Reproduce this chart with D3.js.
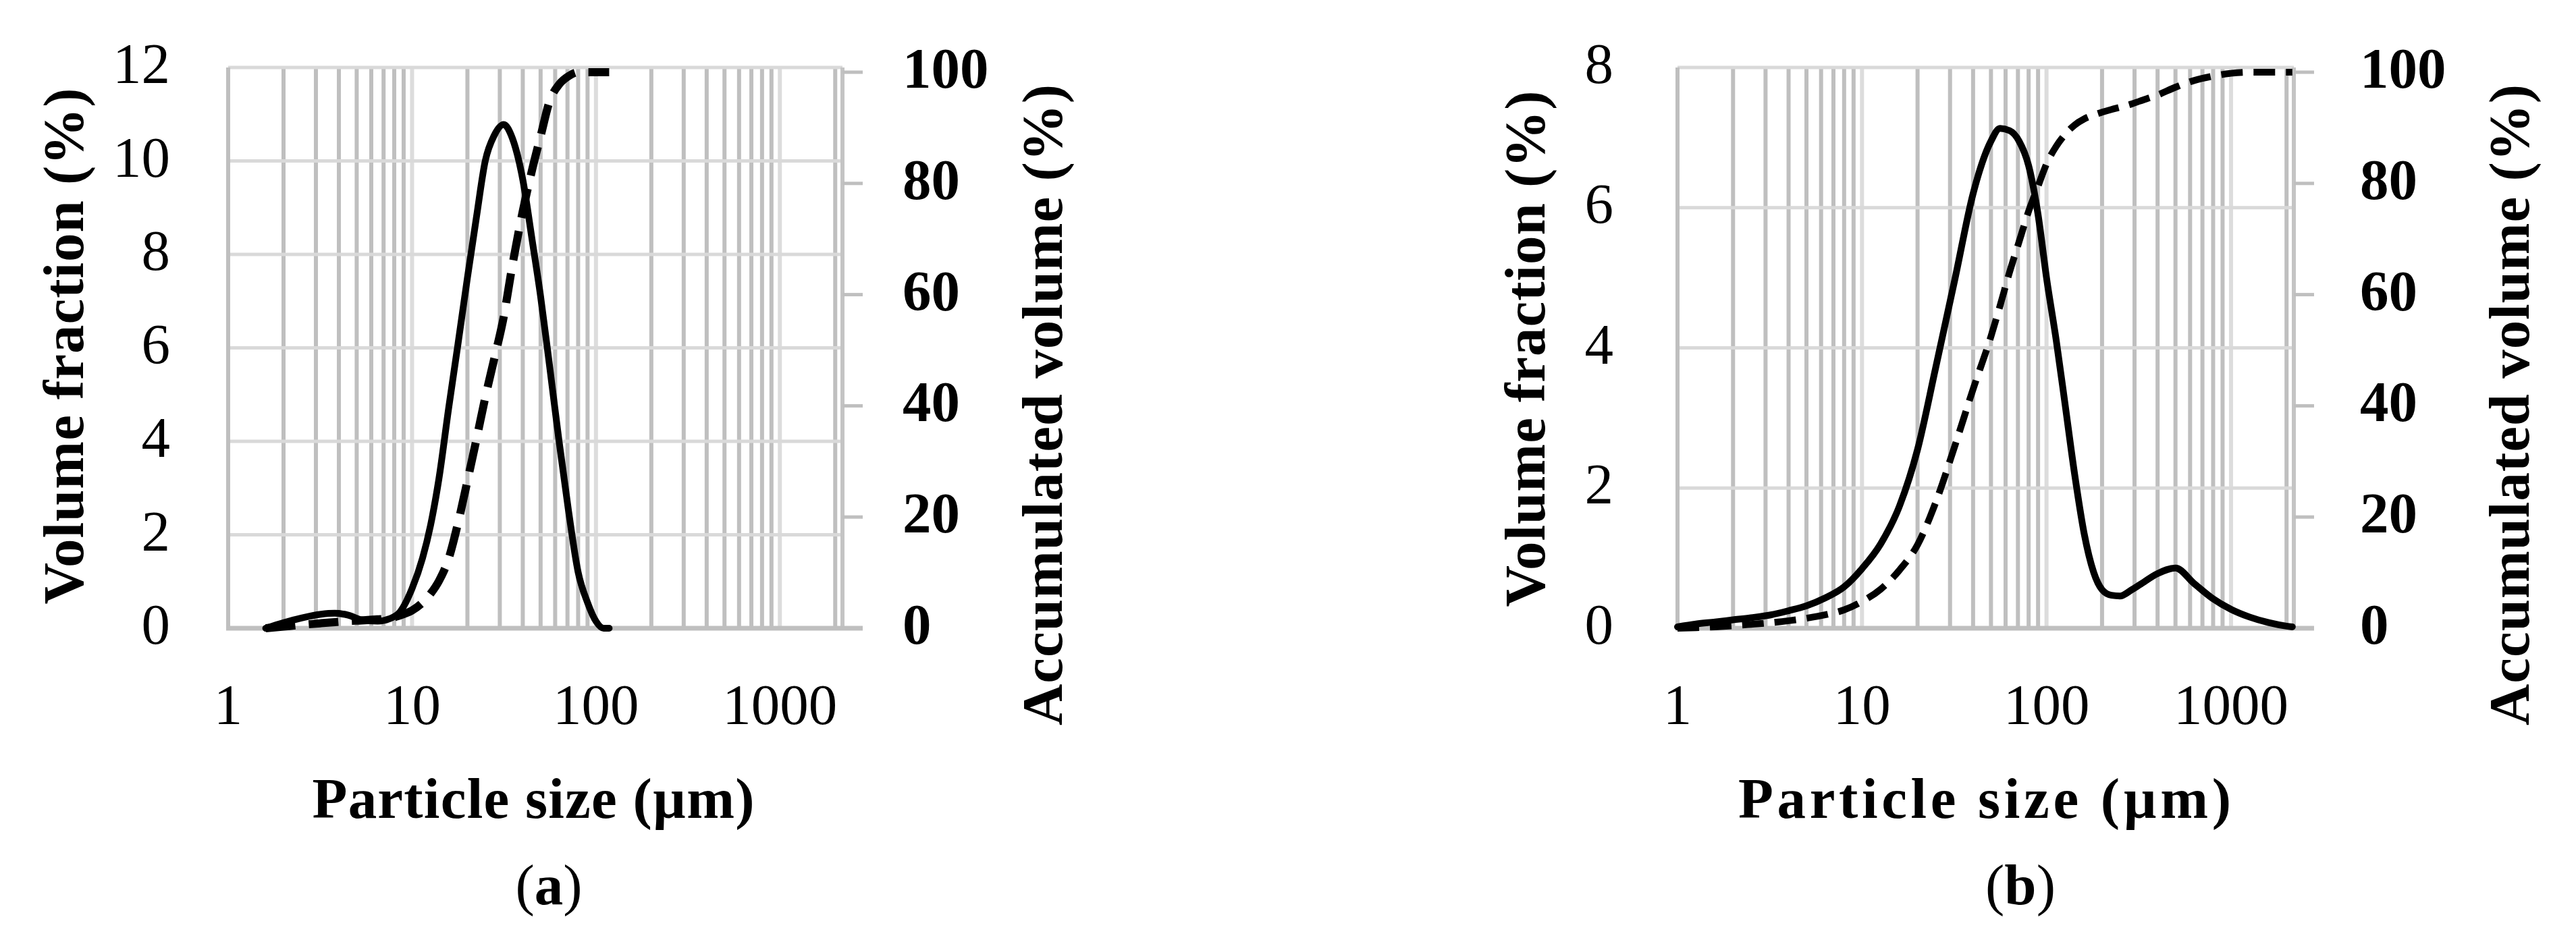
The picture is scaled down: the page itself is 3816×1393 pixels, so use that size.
<!DOCTYPE html>
<html>
<head>
<meta charset="utf-8">
<script src="https://cdn.jsdelivr.net/npm/d3@7"></script>
<style>
  body { margin: 0; background: #fff; }
  text { font-family: "Liberation Serif", "Times New Roman", serif; fill: #000; }
</style>
</head>
<body>
<div id="chart"></div>
<script>
// page size
const width = 3816;
const height = 1393;

// panel (a): particle size (µm), volume fraction (%), accumulated volume (%)
const sizesA = [1.6, 2, 2.5, 3.2, 3.8, 4.5, 5.3, 6.5, 7.5, 8.6, 10, 11.4, 12.6, 14, 15.8, 17.8, 20, 22.4, 25, 28, 31.5, 35, 40, 45, 50, 56, 63, 71, 80, 90, 100, 110, 118];
const fractionA = [0, 0.12, 0.22, 0.3, 0.32, 0.28, 0.18, 0.15, 0.2, 0.35, 0.85, 1.5, 2.2, 3.2, 4.7, 6.1, 7.5, 8.8, 10.0, 10.55, 10.78, 10.5, 9.6, 8.3, 7.1, 5.6, 4.0, 2.5, 1.2, 0.55, 0.15, 0, 0];
const accumA = [0, 0.3, 0.6, 0.9, 1.1, 1.3, 1.4, 1.6, 1.8, 2.3, 3.2, 4.6, 6.2, 8.5, 12.5, 19, 26.5, 34, 41.5, 48.5, 56, 65, 75, 82.5, 88.5, 94.8, 97.8, 99.3, 100, 100, 100, 100, 100];

// panel (b)
const sizesB = [1, 1.26, 1.6, 2, 2.5, 3.2, 4, 5, 6.3, 8, 10, 12.6, 16, 20, 25, 32, 40, 50, 56, 63, 71, 80, 90, 100, 113, 126, 142, 160, 180, 200, 225, 250, 290, 320, 400, 500, 630, 800, 1000, 1260, 1600, 2000, 2150];
const fractionB = [0.02, 0.06, 0.09, 0.12, 0.15, 0.19, 0.25, 0.32, 0.43, 0.59, 0.85, 1.2, 1.75, 2.55, 3.7, 5.0, 6.2, 6.95, 7.13, 7.1, 6.95, 6.6, 5.9, 5.0, 4.1, 3.2, 2.2, 1.35, 0.8, 0.55, 0.47, 0.46, 0.55, 0.62, 0.78, 0.86, 0.64, 0.42, 0.27, 0.16, 0.08, 0.03, 0.02];
const accumB = [0, 0.1, 0.25, 0.45, 0.7, 1.0, 1.35, 1.8, 2.4, 3.3, 4.8, 7.0, 10.5, 15, 22.5, 33, 43, 52.5, 58, 64, 69.5, 75, 79.5, 83.5, 86.7, 88.8, 90.5, 91.6, 92.3, 92.8, 93.3, 93.7, 94.3, 94.8, 95.9, 97.3, 98.5, 99.3, 99.8, 100, 100, 100, 100];

// tick labels
const xTickValues = [1, 10, 100, 1000];
const fractionTicksA = [0, 2, 4, 6, 8, 10, 12];
const fractionTicksB = [0, 2, 4, 6, 8];
const accumTicks = [0, 20, 40, 60, 80, 100];

const svg = d3.select("#chart")
  .append("svg")
  .attr("width", width)
  .attr("height", height);

svg.append("rect")
  .attr("width", width)
  .attr("height", height)
  .attr("fill", "#fff");

const fontSize = 85;

function drawPanel(p) {
  const g = svg.append("g");

  const x = d3.scaleLog().domain([1, 2190]).range([p.left, p.right]);
  const yL = d3.scaleLinear().domain([0, p.yMax]).range([p.bottom, p.top]);
  const yR = d3.scaleLinear().domain([0, 100]).range([p.bottom, p.top + 7]);

  // vertical gridlines, decades lighter
  const gridX = x.ticks().filter(d => d > 1);
  g.selectAll(".vgrid")
    .data(gridX)
    .enter()
    .append("line")
    .attr("x1", d => x(d)).attr("x2", d => x(d))
    .attr("y1", p.top).attr("y2", p.bottom)
    .attr("stroke", d => xTickValues.includes(d) ? "#dcdcdc" : "#bfbfbf")
    .attr("stroke-width", 6);

  // horizontal gridlines
  g.selectAll(".hgrid")
    .data(p.fTicks.filter(d => d > 0))
    .enter()
    .append("line")
    .attr("x1", p.left).attr("x2", p.right)
    .attr("y1", d => yL(d)).attr("y2", d => yL(d))
    .attr("stroke", "#d9d9d9")
    .attr("stroke-width", 5);

  // axis lines
  g.append("line")
    .attr("x1", p.left).attr("x2", p.left)
    .attr("y1", p.top).attr("y2", p.bottom)
    .attr("stroke", "#bfbfbf").attr("stroke-width", 6);
  g.append("line")
    .attr("x1", p.right).attr("x2", p.right)
    .attr("y1", p.top).attr("y2", p.bottom)
    .attr("stroke", "#c4c4c4").attr("stroke-width", 6);
  g.append("line")
    .attr("x1", p.left - 3).attr("x2", p.right + 30)
    .attr("y1", p.bottom).attr("y2", p.bottom)
    .attr("stroke", "#bfbfbf").attr("stroke-width", 7);

  // right axis tick marks
  g.selectAll(".rtick")
    .data(accumTicks)
    .enter()
    .append("line")
    .attr("x1", p.right).attr("x2", p.right + 30)
    .attr("y1", d => yR(d)).attr("y2", d => yR(d))
    .attr("stroke", "#bfbfbf").attr("stroke-width", 5);

  // curves
  const fractionLine = d3.line()
    .x((d, i) => x(p.sizes[i]))
    .y(d => yL(d))
    .curve(d3.curveMonotoneX);
  const accumLine = d3.line()
    .x((d, i) => x(p.sizes[i]))
    .y(d => yR(d))
    .curve(d3.curveMonotoneX);

  g.append("path")
    .attr("d", accumLine(p.accum))
    .attr("fill", "none")
    .attr("stroke", "#000")
    .attr("stroke-width", p.dashWidth)
    .attr("stroke-dasharray", p.dash);

  g.append("path")
    .attr("d", fractionLine(p.fraction))
    .attr("fill", "none")
    .attr("stroke", "#000")
    .attr("stroke-width", 10)
    .attr("stroke-linecap", "round")
    .attr("stroke-linejoin", "round");

  // left tick labels
  g.selectAll(".ltext")
    .data(p.fTicks)
    .enter()
    .append("text")
    .attr("x", p.leftLabelX)
    .attr("y", d => yL(d) + 23)
    .attr("text-anchor", "end")
    .style("font-size", fontSize + "px")
    .text(d => d);

  // right tick labels (heavier in the original)
  g.selectAll(".rtext")
    .data(accumTicks)
    .enter()
    .append("text")
    .attr("x", p.rightLabelX)
    .attr("y", d => yR(d) + 23)
    .attr("text-anchor", "start")
    .style("font-size", fontSize + "px")
    .style("font-weight", "bold")
    .text(d => d);

  // x tick labels
  g.selectAll(".xtext")
    .data(xTickValues)
    .enter()
    .append("text")
    .attr("x", d => x(d))
    .attr("y", 1073)
    .attr("text-anchor", "middle")
    .style("font-size", fontSize + "px")
    .text(d => d);

  // axis titles
  g.append("text")
    .attr("transform", "translate(" + p.leftTitleX + "," + p.leftTitleY + ") rotate(-90)")
    .attr("dy", "0.33em")
    .attr("text-anchor", "middle")
    .attr("textLength", 765)
    .attr("lengthAdjust", "spacing")
    .style("font-size", fontSize + "px")
    .style("font-weight", "bold")
    .text("Volume fraction (%)");

  g.append("text")
    .attr("transform", "translate(" + p.rightTitleX + ",600) rotate(-90)")
    .attr("dy", "0.33em")
    .attr("text-anchor", "middle")
    .attr("textLength", 950)
    .attr("lengthAdjust", "spacing")
    .style("font-size", fontSize + "px")
    .style("font-weight", "bold")
    .text("Accumulated volume (%)");

  g.append("text")
    .attr("x", p.xTitleX)
    .attr("y", 1212)
    .attr("text-anchor", "middle")
    .attr("textLength", p.xTitleLen)
    .attr("lengthAdjust", "spacing")
    .style("font-size", fontSize + "px")
    .style("font-weight", "bold")
    .text("Particle size (µm)");

  // panel caption
  const cap = g.append("text")
    .attr("x", p.capX)
    .attr("y", 1340)
    .attr("text-anchor", "middle")
    .style("font-size", fontSize + "px");
  cap.append("tspan").text("(");
  cap.append("tspan").style("font-weight", "bold").text(p.label);
  cap.append("tspan").text(")");
}

drawPanel({
  left: 338, right: 1248, top: 100, bottom: 931, yMax: 12,
  fTicks: fractionTicksA, sizes: sizesA, fraction: fractionA, accum: accumA,
  leftLabelX: 252, rightLabelX: 1337, leftTitleX: 95, leftTitleY: 513,
  rightTitleX: 1545, xTitleX: 790, xTitleLen: 655, capX: 813, label: "a",
  dash: "44,20", dashWidth: 12
});

drawPanel({
  left: 2485, right: 3398, top: 100, bottom: 931, yMax: 8,
  fTicks: fractionTicksB, sizes: sizesB, fraction: fractionB, accum: accumB,
  leftLabelX: 2390, rightLabelX: 3496, leftTitleX: 2260, leftTitleY: 517,
  rightTitleX: 3718, xTitleX: 2940, xTitleLen: 730, capX: 2993, label: "b",
  dash: "32,16", dashWidth: 10
});
</script>
</body>
</html>
